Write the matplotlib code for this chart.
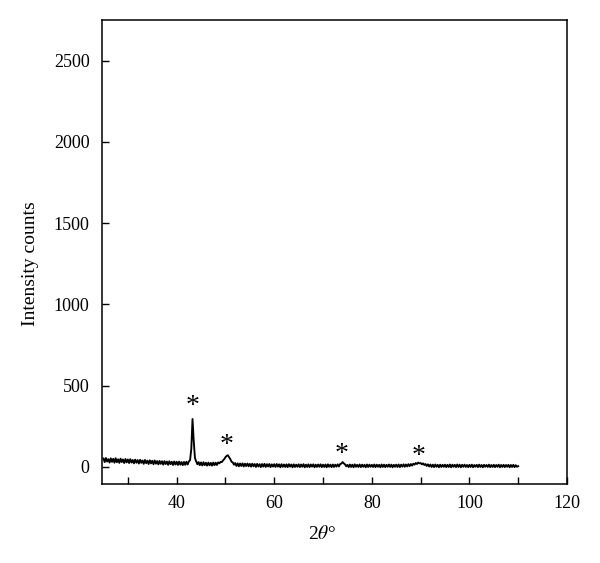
import numpy as np
import matplotlib
matplotlib.use("Agg")
import matplotlib.pyplot as plt
from matplotlib.ticker import MultipleLocator

plt.rcParams['font.family'] = ['Liberation Serif', 'DejaVu Serif']
plt.rcParams['mathtext.fontset'] = 'stix'

# XRD scan, 2theta from 25 to 110 in 0.25 deg steps
two_theta = np.linspace(25, 110, 341)
counts = [
    52, 30, 55, 33, 48, 27, 53, 31, 50, 26, 54, 29, 47, 25, 51, 30, 46, 24, 49, 28,
    46, 24, 48, 27, 43, 22, 45, 26, 42, 21, 44, 25, 40, 19, 43, 23, 39, 18, 41, 22,
    38, 17, 40, 20, 36, 16, 37, 19, 35, 14, 36, 18, 33, 13, 35, 17, 32, 12, 34, 15,
    32, 12, 33, 14, 30, 11, 31, 13, 32, 15, 34, 42, 110, 295, 160, 55, 34, 16, 30, 11,
    28, 9, 29, 11, 26, 8, 27, 10, 25, 8, 27, 11, 26, 12, 28, 22, 31, 30, 40, 48,
    60, 68, 72, 60, 48, 32, 28, 14, 24, 6, 22, 4, 21, 6, 22, 3, 20, 5, 21, 4,
    19, 2, 20, 4, 18, 0, 19, 3, 17, -1, 18, 2, 19, 0, 17, 3, 18, -1, 16, 2,
    17, 0, 18, 2, 16, -2, 17, 1, 15, 0, 16, -1, 17, 2, 15, -2, 16, 0, 14, 1,
    16, -1, 15, 1, 17, -2, 14, 0, 16, -1, 15, 2, 16, -2, 14, 0, 15, 1, 16, -1,
    14, 0, 15, -2, 16, 1, 14, -1, 15, 0, 14, 2, 16, 3, 18, 20, 30, 22, 16, 4,
    13, -1, 15, 0, 14, -2, 16, 1, 13, 0, 15, -1, 14, 1, 13, -2, 15, 0, 14, 1,
    13, 0, 15, -1, 14, 1, 13, -2, 15, 0, 14, -1, 13, 1, 15, 0, 14, -2, 13, 1,
    14, 0, 15, -1, 14, 2, 16, 1, 15, 3, 17, 5, 18, 8, 20, 14, 24, 18, 27, 22,
    24, 16, 22, 12, 18, 6, 16, 3, 15, 0, 14, -1, 15, 1, 13, -2, 14, 0, 13, 1,
    14, -1, 13, 0, 15, -2, 14, 1, 13, -1, 15, 0, 14, -2, 13, 1, 14, 0, 12, -1,
    13, 0, 14, -2, 12, 1, 13, -1, 14, 0, 12, -2, 13, 1, 12, 0, 14, -1, 12, 0,
    13, -1, 12, 1, 14, -2, 12, 0, 13, -1, 12, 1, 13, -2, 12, 0, 13, -1, 11, 1,
    5,
]

# peak markers
star_x = [43.3, 50.3, 73.9, 89.5]
star_y = [370, 130, 76, 64]

fig = plt.figure(figsize=(6, 5.63), dpi=100)
ax = fig.add_axes([0.17, 0.1403, 0.775, 0.8242])

ax.plot(two_theta, counts, color='black', lw=1.35)
for sx, sy in zip(star_x, star_y):
    ax.text(sx, sy, '*', ha='center', va='center', fontsize=20)

ax.set_xlim(24.7, 120)
ax.set_ylim(-105, 2750)
ax.xaxis.set_major_locator(MultipleLocator(20))
ax.xaxis.set_minor_locator(MultipleLocator(10))
ax.yaxis.set_major_locator(MultipleLocator(500))
ax.tick_params(which='both', direction='in', labelsize=13, length=5, width=1)
ax.tick_params(axis='x', pad=8)
ax.tick_params(axis='y', pad=9)
for s in ax.spines.values():
    s.set_linewidth(1.1)

ax.set_xlabel(r'2$\theta$°', fontsize=14)
ax.set_ylabel('Intensity counts', fontsize=14)
ax.xaxis.set_label_coords(0.473, -0.088)
ax.yaxis.set_label_coords(-0.135, 0.476)

fig.savefig('out.png')
